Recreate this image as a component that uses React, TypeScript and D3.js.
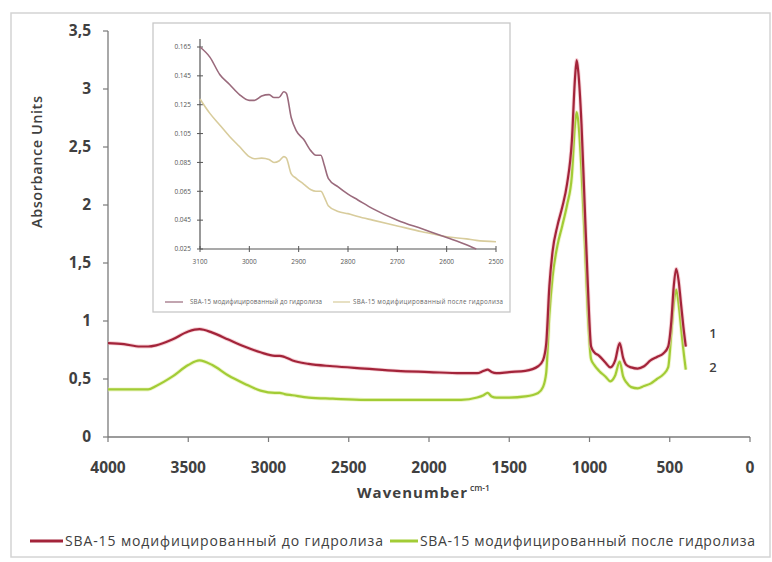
import React from "react";
import * as d3 from "d3";

// ---- Main spectrum data ----
const wavenumbers = [4000, 3900, 3800, 3750, 3700, 3600, 3500, 3430, 3350, 3250, 3150, 3050, 2960, 2930, 2900, 2850, 2750, 2600, 2400, 2200, 2000, 1800, 1700, 1660, 1635, 1610, 1580, 1500, 1400, 1320, 1290, 1270, 1250, 1230, 1200, 1170, 1140, 1110, 1090, 1080, 1070, 1050, 1030, 1010, 990, 970, 940, 900, 870, 840, 812, 790, 770, 740, 700, 660, 620, 580, 540, 510, 490, 475, 460, 445, 430, 415, 400];
const beforeHydrolysis = [0.81, 0.80, 0.78, 0.78, 0.79, 0.84, 0.91, 0.93, 0.90, 0.84, 0.78, 0.73, 0.70, 0.70, 0.69, 0.66, 0.63, 0.61, 0.59, 0.57, 0.56, 0.55, 0.55, 0.57, 0.58, 0.56, 0.55, 0.56, 0.57, 0.61, 0.66, 0.80, 1.30, 1.60, 1.82, 1.98, 2.18, 2.55, 3.10, 3.25, 3.15, 2.70, 2.00, 1.30, 0.78, 0.73, 0.70, 0.64, 0.60, 0.66, 0.81, 0.68, 0.62, 0.60, 0.59, 0.61, 0.66, 0.69, 0.72, 0.78, 1.00, 1.30, 1.45, 1.35, 1.15, 0.95, 0.78];
const afterHydrolysis = [0.41, 0.41, 0.41, 0.41, 0.44, 0.52, 0.62, 0.66, 0.62, 0.53, 0.46, 0.40, 0.38, 0.38, 0.37, 0.36, 0.34, 0.33, 0.32, 0.32, 0.32, 0.32, 0.34, 0.36, 0.38, 0.35, 0.34, 0.34, 0.35, 0.38, 0.43, 0.55, 1.05, 1.38, 1.65, 1.82, 2.00, 2.25, 2.70, 2.80, 2.72, 2.30, 1.70, 1.05, 0.67, 0.62, 0.57, 0.52, 0.48, 0.53, 0.65, 0.52, 0.47, 0.43, 0.42, 0.44, 0.46, 0.50, 0.54, 0.60, 0.90, 1.15, 1.27, 1.15, 0.95, 0.75, 0.58];
const xTicks = [4000, 3500, 3000, 2500, 2000, 1500, 1000, 500, 0];
const yTicks = [0, 0.5, 1, 1.5, 2, 2.5, 3, 3.5];
const legendLabels = ["SBA-15 модифицированный до гидролиза", "SBA-15 модифицированный после гидролиза"];

// ---- Inset data ----
const insetWavenumbers = [3100, 3080, 3060, 3040, 3020, 3000, 2990, 2975, 2960, 2950, 2940, 2930, 2925, 2915, 2905, 2890, 2875, 2865, 2855, 2848, 2840, 2820, 2800, 2780, 2750, 2700, 2650, 2600, 2560, 2540, 2500];
const insetBefore = [0.165, 0.158, 0.146, 0.139, 0.132, 0.128, 0.128, 0.131, 0.132, 0.130, 0.130, 0.134, 0.133, 0.116, 0.107, 0.101, 0.093, 0.090, 0.090, 0.083, 0.074, 0.068, 0.063, 0.059, 0.053, 0.045, 0.039, 0.033, 0.028, 0.025, null];
const insetAfter = [0.129, 0.119, 0.111, 0.103, 0.096, 0.089, 0.0875, 0.088, 0.087, 0.085, 0.086, 0.089, 0.088, 0.077, 0.074, 0.070, 0.066, 0.065, 0.065, 0.061, 0.055, 0.051, 0.0495, 0.0475, 0.045, 0.041, 0.037, 0.0335, 0.032, 0.031, 0.030];
const insetXTicks = [3100, 3000, 2900, 2800, 2700, 2600, 2500];
const insetYTicks = [0.025, 0.045, 0.065, 0.085, 0.105, 0.125, 0.145, 0.165];

const RED = "#a3243a";
const GREEN = "#a2cc36";
const MAUVE = "#9a6a7c";
const BEIGE = "#d8cc9c";
const AXIS = "#7a7a7a";
const TEXT = "#404040";
const FONT = "'Open Sans', 'DejaVu Sans', sans-serif";

export default function App() {
  const x = d3.scaleLinear().domain([4000, 0]).range([108, 750]);
  const y = d3.scaleLinear().domain([0, 3.5]).range([437, 31]);
  const fmtY = (v: number) => String(v).replace(".", ",");

  const mainLine = (vals: number[]) =>
    d3
      .line<number>()
      .x((_, i) => x(wavenumbers[i]))
      .y((d) => y(d))
      .curve(d3.curveMonotoneX)(vals) as string;

  const ix = d3.scaleLinear().domain([3100, 2500]).range([200, 496]);
  const iy = d3.scaleLinear().domain([0.025, 0.165]).range([249, 47]);
  const insetLine = (vals: (number | null)[]) =>
    d3
      .line<number | null>()
      .defined((d) => d !== null)
      .x((_, i) => ix(insetWavenumbers[i]))
      .y((d) => iy(d as number))
      .curve(d3.curveMonotoneX)(vals) as string;

  return (
    <svg
      width={772}
      height={562}
      style={{ position: "absolute", left: 0, top: 0, background: "#fff" }}
      fontFamily={FONT}
    >
      <rect x={0} y={0} width={772} height={562} fill="#fff" />
      <rect x={11} y={13} width={759} height={544} fill="none" stroke="#d4d4d4" strokeWidth={1.5} />

      {/* Main axes */}
      <line x1={108} x2={108} y1={y(3.5)} y2={y(0)} stroke={AXIS} strokeWidth={1.3} />
      <line x1={x(4000)} x2={x(0)} y1={y(0)} y2={y(0)} stroke={AXIS} strokeWidth={1.3} />
      {yTicks.map((t) => (
        <g key={"yt" + t}>
          <line x1={103} x2={108} y1={y(t)} y2={y(t)} stroke={AXIS} strokeWidth={1.2} />
          <text x={91} y={y(t)} dy="0.35em" textAnchor="end" fontSize={15.5} fontWeight={700} fill={TEXT}>
            {fmtY(t)}
          </text>
        </g>
      ))}
      {xTicks.map((t) => (
        <g key={"xt" + t}>
          <line x1={x(t)} x2={x(t)} y1={y(0)} y2={y(0) + 5} stroke={AXIS} strokeWidth={1.2} />
          <text x={x(t)} y={468} dy="0.35em" textAnchor="middle" fontSize={15.5} fontWeight={700} fill={TEXT}>
            {t}
          </text>
        </g>
      ))}
      <text
        transform="translate(37,162) rotate(-90)"
        textAnchor="middle"
        dy="0.35em"
        fontSize={14.5}
        fontWeight={600}
        fill={TEXT}
        textLength={132}
      >
        Absorbance Units
      </text>
      <text x={357} y={493} dy="0.35em" fontSize={15} fontWeight={700} fill={TEXT} textLength={110}>
        Wavenumber
      </text>
      <text x={470} y={488} dy="0.35em" fontSize={8.5} fontWeight={600} fill={TEXT}>
        cm-1
      </text>

      {/* Main curves */}
      <path d={mainLine(afterHydrolysis)} fill="none" stroke="#e4f0a8" strokeWidth={4} opacity={0.6} />
      <path d={mainLine(afterHydrolysis)} fill="none" stroke={GREEN} strokeWidth={2.2} />
      <path d={mainLine(beforeHydrolysis)} fill="none" stroke="#f0b4bc" strokeWidth={4} opacity={0.6} />
      <path d={mainLine(beforeHydrolysis)} fill="none" stroke={RED} strokeWidth={2.2} />

      <text x={713} y={333} dy="0.35em" textAnchor="middle" fontSize={13} fontWeight={600} fill={TEXT}>1</text>
      <text x={713} y={367} dy="0.35em" textAnchor="middle" fontSize={13} fontWeight={600} fill={TEXT}>2</text>

      {/* Legend */}
      <line x1={30} x2={63} y1={541} y2={541} stroke={RED} strokeWidth={3} />
      <text x={65} y={541} dy="0.35em" fontSize={14} fill={TEXT} textLength={318}>
        {legendLabels[0]}
      </text>
      <line x1={390} x2={418} y1={541} y2={541} stroke={GREEN} strokeWidth={3} />
      <text x={420} y={541} dy="0.35em" fontSize={14} fill={TEXT} textLength={335}>
        {legendLabels[1]}
      </text>

      {/* Inset */}
      <rect x={153} y={23} width={357} height={289} fill="#fff" stroke="#c8c8c8" strokeWidth={1.3} />
      <line x1={200} x2={200} y1={iy(0.165) - 8} y2={iy(0.025)} stroke="#555" strokeWidth={1.2} />
      <line x1={ix(3100)} x2={ix(2500)} y1={iy(0.025)} y2={iy(0.025)} stroke="#555" strokeWidth={1.2} />
      {insetYTicks.map((t) => (
        <g key={"iy" + t}>
          <line x1={197} x2={203} y1={iy(t)} y2={iy(t)} stroke="#555" strokeWidth={1} />
          <text x={191} y={iy(t)} dy="0.35em" textAnchor="end" fontSize={6.5} fill="#555">
            {t.toFixed(3)}
          </text>
        </g>
      ))}
      {insetXTicks.map((t) => (
        <g key={"ix" + t}>
          <line x1={ix(t)} x2={ix(t)} y1={iy(0.025) - 3} y2={iy(0.025) + 3} stroke="#555" strokeWidth={1} />
          <text x={ix(t)} y={262} dy="0.35em" textAnchor="middle" fontSize={6.5} fill="#555">
            {t}
          </text>
        </g>
      ))}
      <path d={insetLine(insetAfter)} fill="none" stroke={BEIGE} strokeWidth={1.6} />
      <path d={insetLine(insetBefore)} fill="none" stroke={MAUVE} strokeWidth={1.6} />
      <line x1={165} x2={183} y1={302} y2={302} stroke={MAUVE} strokeWidth={1.2} />
      <text x={190} y={302} dy="0.35em" fontSize={6.2} fill="#666" textLength={132}>
        {legendLabels[0]}
      </text>
      <line x1={333} x2={350} y1={302} y2={302} stroke={BEIGE} strokeWidth={1.2} />
      <text x={353} y={302} dy="0.35em" fontSize={6.2} fill="#666" textLength={150}>
        {legendLabels[1]}
      </text>
    </svg>
  );
}
